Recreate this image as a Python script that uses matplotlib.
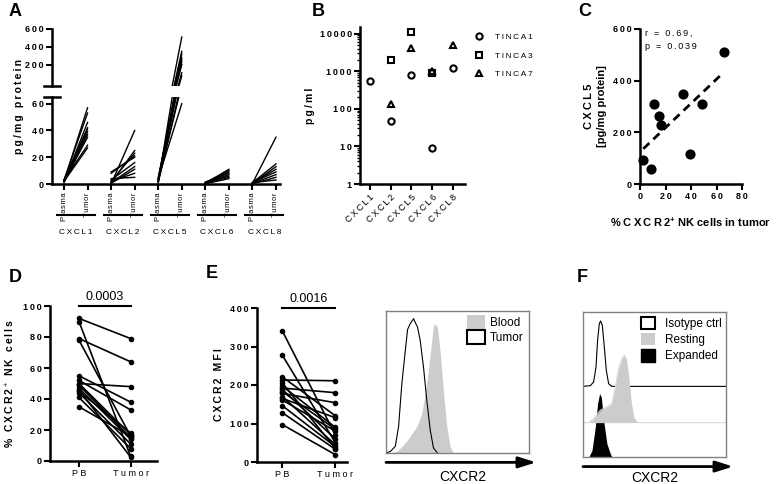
import numpy as np
import matplotlib
matplotlib.use("Agg")
import matplotlib.pyplot as plt
from matplotlib.patches import Patch

plt.rcParams['font.family'] = ['Liberation Sans', 'DejaVu Sans']
plt.rcParams['mathtext.fontset'] = 'custom'
plt.rcParams['mathtext.rm'] = 'Liberation Sans'
plt.rcParams['mathtext.bf'] = 'Liberation Sans:bold'

W, H = 778, 484

# ---------------- data ----------------
# A: chemokines in plasma vs tumor (pg/mg protein), paired samples
chemokines = ["CXCL1", "CXCL2", "CXCL5", "CXCL6", "CXCL8"]
cxcl1_plasma = [2, 3, 1.5, 2.5, 3, 2, 1, 2, 3, 2]
cxcl1_tumor = [57, 53, 46, 42, 41, 39, 37, 35, 29, 27]
cxcl2_plasma = [0, 1, 2, 8, 9, 3, 1, 0.5, 2, 4]
cxcl2_tumor = [40, 25, 23, 21, 20, 16, 13, 11, 8, 5]
cxcl5_plasma = [1, 2, 3, 4, 5, 2, 3, 1, 2, 4]
cxcl5_tumor = [510, 350, 320, 280, 255, 230, 200, 110, 75, 60]
cxcl6_plasma = [0.5, 1, 0.3, 1.5, 0.8, 1, 0.5, 0.2]
cxcl6_tumor = [11, 10, 9, 8, 7, 6, 5, 4]
cxcl8_plasma = [0.5, 1, 0.3, 0.8, 1.2, 0.5, 0.2, 1]
cxcl8_tumor = [35, 15, 13, 11, 9, 7, 5, 3]

# B: chemokines in TINCA supernatants (pg/ml)
tinca_names = ["TINCA1", "TINCA3", "TINCA7"]
tinca1 = [550, 46, 770, 9, 1200]
tinca3 = [np.nan, 2000, 11000, 900, np.nan]
tinca7 = [np.nan, 135, 4200, 1000, 4900]

# C: CXCL5 vs % CXCR2+ NK cells in tumor
c_pct = [2.6, 8.4, 11.3, 14.7, 16.3, 33.6, 39, 49, 65.5]
c_cxcl5 = [93, 59, 311, 264, 230, 350, 115, 311, 512]

# D: % CXCR2+ NK cells, PB vs tumor
d_pb = [92, 90, 79, 78, 55, 52, 50, 50, 49, 47, 46, 45, 44, 41, 35]
d_tumor = [79, 3, 64, 16, 38, 33, 48, 17, 15, 14, 2.5, 18, 11, 8, 16]
d_p = "0.0003"

# E: CXCR2 MFI, PB vs tumor
e_pb = [340, 277, 221, 213, 205, 197, 192, 188, 183, 178, 170, 165, 161, 146, 128, 97]
e_tumor = [70, 50, 120, 211, 35, 90, 180, 60, 85, 154, 45, 115, 80, 40, 33, 19]
e_p = "0.0016"

# E histogram (CXCR2, arbitrary units)
blood_x = [3, 7.7, 12.3, 16.9, 21.6, 25, 27.4, 29.7, 32, 33.2, 34.3, 36, 37.8, 40.1, 42.5, 44.8, 47.1]
blood_y = [0, 1.2, 5.8, 11.7, 18.7, 28, 42, 58.4, 79.4, 90, 91, 88.3, 72, 44, 18.7, 4.7, 0]
tumor_x = [0, 3, 6.5, 8.8, 11.1, 13.5, 15.1, 16.9, 19.3, 20.4, 22, 23.9, 26.2, 28.5, 30.9, 33.2, 36]
tumor_y = [0, 1, 4.7, 18.7, 49, 72, 87, 91, 94.6, 92, 88.8, 79.4, 60.7, 37.4, 16.4, 3.5, 0]

# F histograms (stacked)
iso_x = [0, 5.1, 7.4, 9.1, 10.2, 11.4, 12.3, 13.5, 14.9, 16.3, 17.9, 20.2, 100]
iso_y = [48.7, 49.2, 51.7, 62, 80.5, 92, 93.8, 90.8, 75.9, 59.8, 50.6, 48.7, 48.7]
rest_x = [0, 4, 7.4, 12.1, 16.7, 20.2, 22.6, 24.9, 27.2, 28.8, 30.2, 31.9, 33.5, 35.3, 37.7, 40, 100]
rest_y = [23.7, 23.7, 26.4, 32.2, 34.5, 36.8, 48.3, 60.9, 67.8, 70.1, 67.8, 55.2, 39.1, 27.6, 24.1, 23.7, 23.7]
exp_x = [4, 6.3, 8.6, 10.2, 11.6, 12.8, 14.4, 16.7, 19.1, 20.2]
exp_y = [0, 4.6, 20.7, 36.8, 43.7, 41.4, 25.3, 9.2, 2.3, 0]

# ---------------- helpers ----------------
fig = plt.figure(figsize=(7.78, 4.84), dpi=100)


def px_axes(x0, y0, x1, y1):
    return fig.add_axes([x0 / W, 1 - y1 / H, (x1 - x0) / W, (y1 - y0) / H])


def sp(s, gap="\u2009"):
    # prism-like letter spacing
    return gap.join(s)


def prism(ax):
    ax.spines[['top', 'right']].set_visible(False)
    ax.spines[['left', 'bottom']].set_linewidth(1.8)
    ax.tick_params(direction='out', length=4, width=1.5, labelsize=6.5, pad=2)


def nums(vals):
    return [sp(str(v)) for v in vals]


# ---------------- A ----------------
def fwd(v):
    v = np.asarray(v, float)
    return np.where(v <= 65, v * 87 / 65, 98 + (v - 65) * 57 / 535)


def inv(y):
    y = np.asarray(y, float)
    return np.where(y <= 87, y * 65 / 87, np.where(y < 98, 65, 65 + (y - 98) * 535 / 57))


lower = px_axes(52, 97, 280, 184)
upper = px_axes(52, 29, 280, 86)
groups = [(cxcl1_plasma, cxcl1_tumor), (cxcl2_plasma, cxcl2_tumor), (cxcl5_plasma, cxcl5_tumor),
          (cxcl6_plasma, cxcl6_tumor), (cxcl8_plasma, cxcl8_tumor)]
for ax in (lower, upper):
    prism(ax)
    ax.set_yscale('function', functions=(fwd, inv))
    ax.set_xlim(-0.51, 9.17)
    for i, (pl, tu) in enumerate(groups):
        for p, t in zip(pl, tu):
            ax.plot([2 * i, 2 * i + 1], [p, t], color='k', lw=1)
lower.set_ylim(0, 65)
upper.set_ylim(65, 600)
lower.set_yticks([0, 20, 40, 60], nums([0, 20, 40, 60]), fontweight='bold')
upper.set_yticks([200, 400, 600], nums([200, 400, 600]), fontweight='bold')
upper.spines['bottom'].set_visible(False)
upper.set_xticks([])
lower.set_xticks(range(10), [sp("Plasma", "\u200a"), sp("Tumor", "\u200a")] * 5, rotation=90,
                 fontsize=5.5)
lower.plot([-0.035, 0.035], [1, 1], transform=lower.transAxes, clip_on=False, color='k', lw=1.8)
upper.plot([-0.035, 0.035], [0, 0], transform=upper.transAxes, clip_on=False, color='k', lw=1.8)
for i, name in enumerate(chemokines):
    lower.plot([2 * i - 0.3, 2 * i + 1.3], [-0.36, -0.36], transform=lower.get_xaxis_transform(),
               clip_on=False, color='k', lw=1.5)
    lower.text(2 * i + 0.5, -0.56, sp(name), transform=lower.get_xaxis_transform(),
               ha='center', va='center', fontsize=6)
fig.text(19 / W, 1 - 106 / H, sp("pg/mg protein"), rotation=90, ha='center', va='center',
         fontsize=7.5, fontweight='bold')

# ---------------- B ----------------
axb = px_axes(360, 27, 465, 184)
prism(axb)
axb.set_yscale('log')
axb.set_ylim(1, 15000)
axb.set_xlim(-0.48, 4.58)
xb = np.arange(len(chemokines))
for vals, mk, name in zip([tinca1, tinca3, tinca7], ['o', 's', '^'], tinca_names):
    axb.plot(xb, vals, linestyle='none', marker=mk, ms=4.5, mew=1.5, mec='k', mfc='none',
             label=sp(name), clip_on=False)
axb.set_yticks([1, 10, 100, 1000, 10000], nums([1, 10, 100, 1000, 10000]), fontweight='bold')
axb.tick_params(which='minor', length=2, width=1)
axb.set_xticks(xb, [sp(c) for c in chemokines], rotation=45, ha='right', rotation_mode='anchor',
               fontsize=6.5)
axb.set_ylabel(sp("pg/ml"), fontsize=7.5, fontweight='bold', labelpad=3)
axb.legend(loc='upper left', bbox_to_anchor=(474 / W, 1 - 33 / H), bbox_transform=fig.transFigure,
           frameon=False, fontsize=6, borderpad=0, borderaxespad=0, handlelength=1.1,
           handletextpad=1.4, labelspacing=1.3)

# ---------------- C ----------------
axc = px_axes(640, 29, 742, 184)
prism(axc)
axc.set_xlim(0, 80)
axc.set_ylim(0, 600)
axc.scatter(c_pct, c_cxcl5, s=40, color='k', zorder=3, clip_on=False)
fit = np.polyfit(c_pct, c_cxcl5, 1)
xs = np.array([min(c_pct), max(c_pct)])
axc.plot(xs, np.polyval(fit, xs), color='k', lw=2, dashes=(3, 2))
axc.set_xticks([0, 20, 40, 60, 80], nums([0, 20, 40, 60, 80]), fontweight='bold')
axc.set_yticks([0, 200, 400, 600], nums([0, 200, 400, 600]), fontweight='bold')
axc.text(0.05, 0.974, sp("r = 0.69,"), transform=axc.transAxes, va='center', fontsize=6.5)
axc.text(0.05, 0.884, sp("p = 0.039"), transform=axc.transAxes, va='center', fontsize=6.5)
axc.set_ylabel(sp("CXCL5") + "\n[pg/mg protein]", fontsize=8, fontweight='bold', linespacing=1.4,
               labelpad=4)
axc.set_xlabel("% " + sp("CXCR2") + "$^{\\mathbf{+}}$ NK cells in tumor", fontsize=8,
               fontweight='bold', labelpad=10)

# ---------------- D ----------------
axd = px_axes(50, 306, 157, 461)
prism(axd)
axd.set_xlim(-0.56, 1.51)
axd.set_ylim(0, 100)
for p, t in zip(d_pb, d_tumor):
    axd.plot([0, 1], [p, t], color='k', lw=1.2, marker='o', ms=3, clip_on=False)
axd.plot([0, 1], [100, 100], color='k', lw=1.5, clip_on=False)
axd.text(0.5, 102, d_p, ha='center', va='bottom', fontsize=9)
axd.set_yticks(range(0, 101, 20), nums(range(0, 101, 20)), fontweight='bold')
axd.set_xticks([0, 1], ["P B", "T u m o r"], fontsize=6.5)
axd.set_ylabel(sp("% CXCR2") + "$^+$" + sp(" NK cells"), fontsize=7.5, fontweight='bold', labelpad=4)

# ---------------- E ----------------
axe = px_axes(257, 308, 347, 462)
prism(axe)
axe.set_xlim(-0.48, 1.22)
axe.set_ylim(0, 400)
for p, t in zip(e_pb, e_tumor):
    axe.plot([0, 1], [p, t], color='k', lw=1.2, marker='o', ms=3, clip_on=False)
axe.plot([0, 1], [400, 400], color='k', lw=1.5, clip_on=False)
axe.text(0.5, 408, e_p, ha='center', va='bottom', fontsize=9)
axe.set_yticks(range(0, 401, 100), nums(range(0, 401, 100)), fontweight='bold')
axe.set_xticks([0, 1], ["P B", "T u m o r"], fontsize=6.5)
axe.set_ylabel(sp("CXCR2 MFI"), fontsize=7.5, fontweight='bold', labelpad=4)


def flow_box(ax):
    ax.set_xlim(0, 100)
    ax.set_ylim(0, 100)
    ax.set_xticks([])
    ax.set_yticks([])
    for s in ax.spines.values():
        s.set_color('#808080')
        s.set_linewidth(1)
    ax.annotate('', xy=(1.05, -0.066), xytext=(0, -0.066), xycoords='axes fraction',
                arrowprops=dict(arrowstyle='-|>,head_length=0.7,head_width=0.22', lw=2, color='k',
                                mutation_scale=15, shrinkA=0, shrinkB=0), annotation_clip=False)


axh = px_axes(386, 311, 529, 453)
flow_box(axh)
axh.fill_between(blood_x, blood_y, color='#cccccc', lw=0)
axh.plot(tumor_x, tumor_y, color='k', lw=0.8)
axh.text(0.54, -0.167, "CXCR2", transform=axh.transAxes, ha='center', va='center', fontsize=10)
axh.legend(handles=[Patch(facecolor='#cccccc', edgecolor='none', label='Blood'),
                    Patch(facecolor='white', edgecolor='k', lw=1.5, label='Tumor')],
           loc='upper left', bbox_to_anchor=(467 / W, 1 - 315 / H), bbox_transform=fig.transFigure,
           frameon=False, fontsize=8.5, borderpad=0, borderaxespad=0, handlelength=1.5,
           handleheight=1.5, handletextpad=0.42, labelspacing=0.05)

# ---------------- F ----------------
axf = px_axes(583, 312, 726, 457)
flow_box(axf)
axf.plot(iso_x, iso_y, color='k', lw=0.8)
axf.plot(rest_x, rest_y, color='#d9d9d9', lw=0.8)
axf.fill_between(rest_x, 23.7, rest_y, color='#cccccc', lw=0, zorder=3)
axf.fill_between(exp_x, exp_y, color='k', lw=0)
axf.text(0.505, -0.147, "CXCR2", transform=axf.transAxes, ha='center', va='center', fontsize=10)
axf.legend(handles=[Patch(facecolor='white', edgecolor='k', lw=1.5, label='Isotype ctrl'),
                    Patch(facecolor='#cccccc', edgecolor='none', label='Resting'),
                    Patch(facecolor='k', edgecolor='k', label='Expanded')],
           loc='upper left', bbox_to_anchor=(640.7 / W, 1 - 317 / H), bbox_transform=fig.transFigure,
           frameon=False, fontsize=8.5, borderpad=0, borderaxespad=0, handlelength=1.23,
           handleheight=1.23, handletextpad=0.85, labelspacing=0.25)

# ---------------- panel letters ----------------
for letter, x, y in [("A", 9, 12), ("B", 312, 12), ("C", 578, 12),
                     ("D", 9, 277), ("E", 206, 273), ("F", 577, 277)]:
    fig.text(x / W, 1 - y / H, letter, fontsize=13, fontweight='bold', va='center', ha='left')

fig.savefig("out.png", dpi=100)
